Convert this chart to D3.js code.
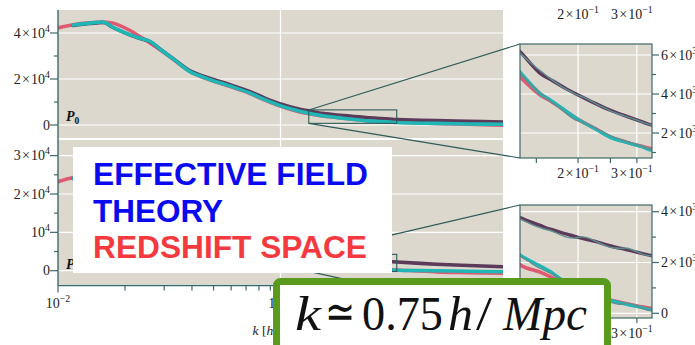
<!DOCTYPE html>
<html><head><meta charset="utf-8">
<script src="https://cdn.jsdelivr.net/npm/d3@7"></script>
<style>html,body{margin:0;padding:0;background:#fff;}svg{display:block;}</style>
</head><body>
<script>
// ---------------- data ----------------
const kVals = [0.0100, 0.0117, 0.0139, 0.0163, 0.0175, 0.0210, 0.0230, 0.0260, 0.0290, 0.0335, 0.0390, 0.0480, 0.0590, 0.0725, 0.0850, 0.101, 0.122, 0.134, 0.154, 0.165, 0.185, 0.200, 0.225, 0.249, 0.280, 0.310, 0.333, 0.500, 0.700, 1.000];

const p0Red    = [42200, 43600, 44400, 44700, 44400, 41200, 38800, 35600, 32500, 28000, 23300, 19600, 16800, 13800, 10800, 8000, 5700, 4890, 3950, 3650, 3080, 2700, 2230, 1800, 1520, 1320, 1190, 650, 300, -100];
const p0Purple = [null, 43300, 44100, 44400, 42600, 39200, 37800, 36200, 32700, 28300, 23700, 20300, 17600, 14600, 11700, 9000, 6800, 6170, 5060, 4750, 4250, 3950, 3520, 3180, 2850, 2580, 2400, 1900, 1600, 1300];
const p0Teal   = [null, 43500, 44300, 44600, 42700, 39300, 37900, 36300, 32700, 28200, 23300, 19800, 17000, 14000, 11000, 8200, 6000, 5140, 4030, 3700, 3100, 2700, 2210, 1780, 1510, 1300, 1100, 700, 450, 300];

const p2Red    = [23200, 24300, 25000, 25200, 25000, 23500, 22200, 20300, 18400, 16000, 13500, 11000, 9000, 7000, 5500, 4000, 2600, 1910, 1620, 1440, 1150, 950, 700, 520, 380, 260, 190, -300, -500, -680];
const p2Purple = [null, 24000, 24700, 24900, 24700, 23300, 22100, 20300, 18500, 16200, 13800, 11400, 9400, 7500, 6100, 5000, 4100, 3770, 3460, 3310, 3120, 2990, 2830, 2660, 2500, 2360, 2270, 1700, 1350, 1040];
const p2Teal   = [null, 24100, 24800, 25000, 24600, 23200, 22000, 20200, 18300, 15900, 13400, 10900, 8900, 6900, 5400, 4000, 2800, 2300, 1870, 1650, 1200, 1000, 750, 520, 350, 230, 130, 0, -150, -260];

const kGray   = [0.134, 0.142, 0.150, 0.158, 0.166, 0.175, 0.185, 0.195, 0.205, 0.215, 0.227, 0.240, 0.253, 0.267, 0.282, 0.298, 0.315, 0.333];
const grayP0a = [6100, 5700, 5350, 5050, 4760, 4480, 4220, 4020, 3860, 3700, 3480, 3290, 3100, 2950, 2820, 2680, 2520, 2400];
const grayP0b = [5080, 4600, 4250, 3900, 3600, 3320, 2980, 2700, 2560, 2420, 2230, 2020, 1830, 1680, 1550, 1420, 1260, 1120];
const grayP2a = [3720, 3560, 3420, 3320, 3250, 3120, 3000, 2960, 3010, 2960, 2820, 2680, 2580, 2560, 2560, 2440, 2310, 2250];
const grayP2b = [2250, 2050, 1850, 1700, 1560, 1380, 1200, 1050, 900, 760, 640, 520, 420, 350, 400, 300, 180, 100];

const topYTicks = [0, 20000, 40000];
const topYLabels = ["0", "2×10^4", "4×10^4"];
const botYTicks = [0, 10000, 20000, 30000];
const botYLabels = ["0", "10^4", "2×10^4", "3×10^4"];
const mainXTicks = [0.01, 0.1];
const mainXLabels = ["10^−2", "10^−1"];
const insetXTicks = [0.2, 0.3];
const insetXLabels = ["2×10^−1", "3×10^−1"];
const inTopYTicks = [2000, 4000, 6000];
const inTopYLabels = ["2×10^3", "4×10^3", "6×10^3"];
const inBotYTicks = [0, 2000, 4000];
const inBotYLabels = ["0", "2×10^3", "4×10^3"];
const overlayLines = ["EFFECTIVE FIELD", "THEORY", "REDSHIFT SPACE"];
const bigLabelParts = ["k", "≃", "0.75", "h", "/", "Mpc"];

// ---------------- style ----------------
const C = {bg:"#dcd8ce", grid:"#ffffff", axis:"#3f6868", red:"#de5a70", purple:"#5b3a5a", teal:"#1fb6b6", gray:"#5f8f8f", conn:"#2e5a5a"};
const serif = "'Liberation Serif','Times New Roman',serif";
const FS = 14;

const svg = d3.select("body").append("svg").attr("width", 695).attr("height", 345)
  .style("font-family", serif);

const xMain = d3.scaleLog().domain([0.01, 1]).range([58, 503]);
const yTop = d3.scaleLinear().domain([0, 40000]).range([125, 33]);
const yBot = d3.scaleLinear().domain([0, 20000]).range([270.7, 194]);
const xIn = d3.scaleLog().domain([0.134, 0.333]).range([520, 652]);
const yInTop = d3.scaleLinear().domain([2000, 6000]).range([133, 55]);
const yInBot = d3.scaleLinear().domain([0, 4000]).range([313.3, 211.7]);

const panels = [
  {id:"mt", x:xMain, y:yTop, x0:58, x1:503, y0:10, y1:138},
  {id:"mb", x:xMain, y:yBot, x0:58, x1:503, y0:140, y1:284},
  {id:"it", x:xIn, y:yInTop, x0:520, x1:652, y0:44, y1:158},
  {id:"ib", x:xIn, y:yInBot, x0:520, x1:652, y0:205, y1:318}
];
const defs = svg.append("defs");
panels.forEach(p => {
  defs.append("clipPath").attr("id", "clip-" + p.id).append("rect")
    .attr("x", p.x0).attr("y", p.y0).attr("width", p.x1 - p.x0).attr("height", p.y1 - p.y0);
});

function sciText(sel, str, size) {
  const parts = str.split("^");
  sel.append("tspan").text(parts[0].replace("×", "\u200a×\u200a"));
  if (parts.length > 1) sel.append("tspan").attr("dy", -size * 0.42).attr("font-size", size * 0.7).text(parts[1]);
}

function drawPanel(p, series, grid, isInset) {
  const g = svg.append("g");
  g.append("rect").attr("x", p.x0).attr("y", p.y0).attr("width", p.x1 - p.x0).attr("height", p.y1 - p.y0).attr("fill", C.bg);
  const cg = g.append("g").attr("clip-path", "url(#clip-" + p.id + ")");
  grid.h.forEach(v => cg.append("line").attr("x1", p.x0).attr("x2", p.x1).attr("y1", p.y(v)).attr("y2", p.y(v))
    .attr("stroke", C.grid).attr("stroke-width", 1.2));
  grid.v.forEach(v => cg.append("line").attr("x1", p.x(v)).attr("x2", p.x(v)).attr("y1", p.y0).attr("y2", p.y1)
    .attr("stroke", C.grid).attr("stroke-width", 1.2));
  series.forEach(s => {
    const line = d3.line().defined(d => d[1] !== null).x(d => p.x(d[0])).y(d => p.y(d[1])).curve(d3.curveCatmullRom);
    cg.append("path").datum(s.k.map((k, i) => [k, s.v[i]])).attr("d", line)
      .attr("fill", "none").attr("stroke", s.c).attr("stroke-width", s.w).attr("stroke-linejoin", "round").attr("stroke-linecap", "round");
  });
  if (isInset) {
    g.append("rect").attr("x", p.x0).attr("y", p.y0).attr("width", p.x1 - p.x0).attr("height", p.y1 - p.y0)
      .attr("fill", "none").attr("stroke", C.axis).attr("stroke-width", 1.2);
  }
  return g;
}

// ---------------- main panels ----------------
const seriesP0 = [
  {k:kVals, v:p0Red, c:C.red, w:3.6},
  {k:kVals, v:p0Purple, c:C.purple, w:3.6},
  {k:kVals, v:p0Teal, c:C.teal, w:3.6}
];
const seriesP2 = [
  {k:kVals, v:p2Red, c:C.red, w:3.6},
  {k:kVals, v:p2Purple, c:C.purple, w:3.6},
  {k:kVals, v:p2Teal, c:C.teal, w:3.6}
];
drawPanel(panels[0], seriesP0, {h:topYTicks, v:[0.1]}, false);
drawPanel(panels[1], seriesP2, {h:botYTicks, v:[0.1]}, false);

// main axes
const ax = svg.append("g").attr("stroke", C.axis);
ax.append("line").attr("x1", 58).attr("x2", 58).attr("y1", 10).attr("y2", 285.5).attr("stroke-width", 1.4);
ax.append("line").attr("x1", 58).attr("x2", 503).attr("y1", 285.5).attr("y2", 285.5).attr("stroke-width", 1.4);
function yTicks(scale, majors, step, lo, hi) {
  for (let v = lo; v <= hi; v += step) {
    const major = majors.includes(v);
    ax.append("line").attr("x1", 58 - (major ? 8 : 4)).attr("x2", 58).attr("y1", scale(v)).attr("y2", scale(v)).attr("stroke-width", 1.2);
  }
}
yTicks(yTop, topYTicks, 10000, 0, 40000);
yTicks(yBot, botYTicks, 5000, 0, 30000);
[0.01, 0.1].forEach(dec => {
  for (let m = 1; m <= 9; m++) {
    const v = dec * m;
    ax.append("line").attr("x1", xMain(v)).attr("x2", xMain(v)).attr("y1", 285.5).attr("y2", 285.5 + (m === 1 ? 7 : 5)).attr("stroke-width", 1.2);
  }
});

const lab = svg.append("g").attr("fill", "#222").attr("font-size", FS);
topYTicks.forEach((v, i) => sciText(lab.append("text").attr("x", 50).attr("y", yTop(v) + 4.5).attr("text-anchor", "end"), topYLabels[i], FS));
botYTicks.forEach((v, i) => sciText(lab.append("text").attr("x", 50).attr("y", yBot(v) + 4.5).attr("text-anchor", "end"), botYLabels[i], FS));
mainXTicks.forEach((v, i) => sciText(lab.append("text").attr("x", xMain(v)).attr("y", 308).attr("text-anchor", "middle"), mainXLabels[i], FS));
const xl = lab.append("text").attr("x", 279).attr("y", 335).attr("text-anchor", "middle").attr("font-size", 13.5);
xl.append("tspan").attr("font-style", "italic").text("k");
xl.append("tspan").text(" [");
xl.append("tspan").attr("font-style", "italic").text("h");
xl.append("tspan").text("/");
xl.append("tspan").attr("font-style", "italic").text("Mpc");
xl.append("tspan").text("]");

function pLabel(x, y, sub) {
  const t = svg.append("text").attr("x", x).attr("y", y).attr("font-size", 14).attr("font-weight", "bold").attr("font-style", "italic").attr("fill", "#111");
  t.append("tspan").text("P");
  t.append("tspan").attr("dy", 3).attr("font-size", 9.5).attr("font-style", "normal").text(sub);
}
pLabel(66, 121, "0");
pLabel(66, 269, "2");

// ---------------- zoom rectangles + connectors ----------------
function connector(panel, inset) {
  const rx0 = xMain(inset.x.domain()[0]), rx1 = xMain(inset.x.domain()[1]);
  const ry0 = panel.y(inset.y.invert(inset.y0)), ry1 = panel.y(inset.y.invert(inset.y1));
  const g = svg.append("g").attr("stroke", C.conn).attr("fill", "none").attr("stroke-width", 1.1);
  g.append("rect").attr("x", rx0).attr("y", ry0).attr("width", rx1 - rx0).attr("height", ry1 - ry0);
  g.append("line").attr("x1", rx0).attr("y1", ry0).attr("x2", inset.x0).attr("y2", inset.y0);
  g.append("line").attr("x1", rx0).attr("y1", ry1).attr("x2", inset.x0).attr("y2", inset.y1);
}
connector(panels[0], panels[2]);
connector(panels[1], panels[3]);

// ---------------- insets ----------------
function grayS(v) { return {k:kGray, v:v, c:C.gray, w:1.4}; }
drawPanel(panels[2], [seriesP0[0], {k:kVals, v:p0Purple, c:C.purple, w:3.4}, {k:kVals, v:p0Teal, c:C.teal, w:3.2}, grayS(grayP0a), grayS(grayP0b)],
  {h:inTopYTicks, v:insetXTicks}, true);
drawPanel(panels[3], [seriesP2[0], {k:kVals, v:p2Purple, c:C.purple, w:3.4}, {k:kVals, v:p2Teal, c:C.teal, w:3.2}, grayS(grayP2a), grayS(grayP2b)],
  {h:inBotYTicks, v:insetXTicks}, true);

function insetAxes(p, yTicksV, yLabels, minorStep, lo, hi) {
  const g = svg.append("g").attr("stroke", C.axis).attr("stroke-width", 1.2);
  for (let v = lo; v <= hi; v += minorStep) {
    const major = yTicksV.includes(v);
    g.append("line").attr("x1", p.x1).attr("x2", p.x1 + (major ? 7 : 4)).attr("y1", p.y(v)).attr("y2", p.y(v));
  }
  [0.15, 0.2, 0.25, 0.3].forEach(v => g.append("line").attr("x1", p.x(v)).attr("x2", p.x(v)).attr("y1", p.y1).attr("y2", p.y1 + 5));
  const lg = svg.append("g").attr("fill", "#222").attr("font-size", FS);
  yTicksV.forEach((v, i) => sciText(lg.append("text").attr("x", p.x1 + 9).attr("y", p.y(v) + 4.5), yLabels[i], FS));
  insetXTicks.forEach((v, i) => sciText(lg.append("text").attr("x", p.x(v) - i * 5).attr("y", p.y1 + 20).attr("text-anchor", "middle"), insetXLabels[i], FS));
}
insetAxes(panels[2], inTopYTicks, inTopYLabels, 1000, 1000, 6000);
insetAxes(panels[3], inBotYTicks, inBotYLabels, 1000, 0, 4000);
const sg = svg.append("g").attr("fill", "#222").attr("font-size", FS);
insetXTicks.forEach((v, i) => sciText(sg.append("text").attr("x", xIn(v) - i * 5).attr("y", 18.5).attr("text-anchor", "middle"), insetXLabels[i], FS));

// ---------------- overlays ----------------
svg.append("rect").attr("x", 73).attr("y", 147).attr("width", 319).attr("height", 126).attr("fill", "#fff");
const ov = svg.append("g").attr("font-family", "'Liberation Sans',Arial,sans-serif").attr("font-weight", "bold").attr("font-size", 31);
const ovColors = ["#0a0af0", "#0a0af0", "#f43a3e"];
const ovY = [185, 222, 258];
const ovW = [275, 130, 274];
overlayLines.forEach((t, i) => ov.append("text").attr("x", 93).attr("y", ovY[i]).attr("fill", ovColors[i])
  .attr("textLength", ovW[i]).attr("lengthAdjust", "spacingAndGlyphs").text(t));

svg.append("rect").attr("x", 276.5).attr("y", 281.5).attr("width", 331).attr("height", 90).attr("rx", 4)
  .attr("fill", "#fff").attr("stroke", "#5a9a1c").attr("stroke-width", 7);
const bigX = [295, 325, 362, 448, 476, 503];
const bigW = [26, 30, 81, 25, 16, 84];
const bigItalic = [true, false, false, true, false, true];
const bigDy = [0, -2, 0, 0, 0, 0];
const bg = svg.append("g").attr("font-size", 48).attr("fill", "#111").attr("font-family", serif);
bigLabelParts.forEach((t, i) => bg.append("text").attr("x", bigX[i]).attr("y", 330 + bigDy[i])
  .attr("font-style", bigItalic[i] ? "italic" : "normal")
  .attr("textLength", bigW[i]).attr("lengthAdjust", "spacingAndGlyphs").text(t));
</script>
</body></html>
